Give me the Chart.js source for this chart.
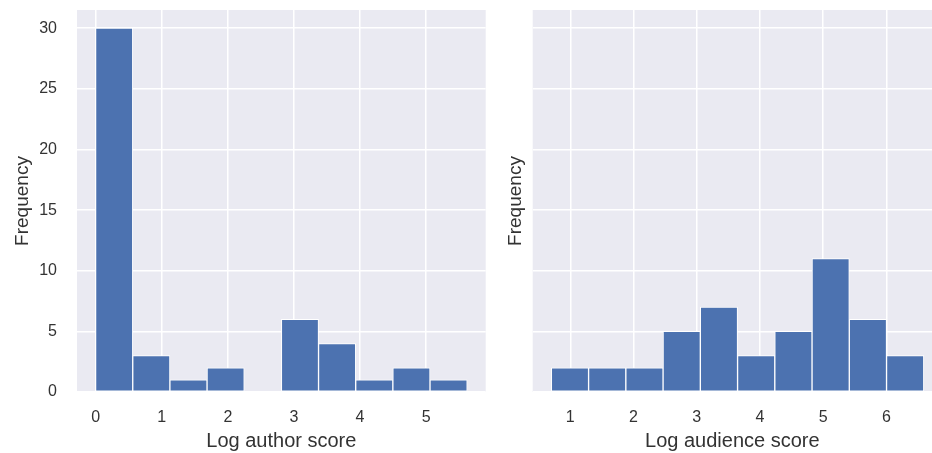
<!DOCTYPE html>
<html><head><meta charset="utf-8">
<script src="https://cdn.jsdelivr.net/npm/chart.js@4.4.0/dist/chart.umd.min.js"></script>
<style>
html,body{margin:0;padding:0;background:#fff;}
#wrap{position:relative;width:932px;height:453px;overflow:hidden;background:#fff;}
.box{position:absolute;top:0;}
</style></head><body>
<div id="wrap">
  <div class="box" style="left:0;width:490px;height:453px"><canvas id="c1" width="490" height="453"></canvas></div>
  <div class="box" style="left:490px;width:442px;height:453px"><canvas id="c2" width="442" height="453"></canvas></div>
</div>
<script>
// ---- data ----
const authorBinEdges   = [0, 0.562, 1.124, 1.686, 2.248, 2.81, 3.372, 3.934, 4.496, 5.058, 5.62];
const authorCounts     = [30, 3, 1, 2, 0, 6, 4, 1, 2, 1];
const audienceBinEdges = [0.70, 1.289, 1.878, 2.467, 3.056, 3.645, 4.234, 4.823, 5.412, 6.001, 6.59];
const audienceCounts   = [2, 2, 2, 5, 7, 3, 5, 11, 6, 3];
const authorTicks   = [0, 1, 2, 3, 4, 5];
const audienceTicks = [1, 2, 3, 4, 5, 6];
const yTicks        = [0, 5, 10, 15, 20, 25, 30];
const authorLabel   = 'Log author score';
const audienceLabel = 'Log audience score';
const yLabel        = 'Frequency';

const FONT = "'Liberation Sans', Arial, Helvetica, sans-serif";
const TEXT = '#333333';
const BG = '#EAEAF2';
const BAR = '#4C72B0';

const bgPlugin = {
  id: 'plotbg',
  beforeDraw(chart) {
    const {ctx, chartArea: a} = chart;
    ctx.save();
    ctx.fillStyle = BG;
    ctx.fillRect(a.left, a.top, a.right - a.left, a.bottom - a.top);
    ctx.restore();
  }
};

function makeChart(id, edges, counts, xTicks, xMin, xMax, xTitle, showY, yWidth, yTitlePad, padRight) {
  const data = counts.map((c, i) => ({x: (edges[i] + edges[i + 1]) / 2, y: c}));
  return new Chart(document.getElementById(id), {
    type: 'bar',
    data: {datasets: [{
      data,
      backgroundColor: BAR,
      borderColor: '#ffffff',
      borderWidth: 1,
      borderSkipped: false,
      barPercentage: 1.0,
      categoryPercentage: 1.0
    }]},
    plugins: [bgPlugin],
    options: {
      responsive: false,
      animation: false,
      devicePixelRatio: 1,
      layout: {padding: {top: 10, left: 0, right: padRight, bottom: 0}},
      plugins: {legend: {display: false}, tooltip: {enabled: false}},
      scales: {
        x: {
          type: 'linear',
          offset: false,
          min: xMin, max: xMax,
          afterBuildTicks: s => { s.ticks = xTicks.map(v => ({value: v})); },
          afterFit: s => { s.height = 61; s.paddingLeft = 0; s.paddingRight = 0; },
          grid: {color: '#ffffff', lineWidth: 1.5, drawTicks: false, offset: false},
          border: {display: false},
          ticks: {font: {family: FONT, size: 16}, color: TEXT, padding: 16, maxRotation: 0,
                  callback: v => String(v)},
          title: {display: true, text: xTitle, font: {family: FONT, size: 20}, color: TEXT,
                  padding: {top: 0, bottom: 0}}
        },
        y: {
          type: 'linear',
          min: 0, max: 31.5,
          afterBuildTicks: s => { s.ticks = yTicks.map(v => ({value: v})); },
          afterFit: s => { s.width = yWidth; s.paddingTop = 0; s.paddingBottom = 0; },
          grid: {color: '#ffffff', lineWidth: 1.5, drawTicks: false},
          border: {display: false},
          ticks: {display: showY, font: {family: FONT, size: 16}, color: TEXT, padding: 20,
                  callback: v => String(v)},
          title: {display: true, text: yLabel, font: {family: FONT, size: 19}, color: TEXT,
                  padding: {top: yTitlePad, bottom: 0}}
        }
      }
    }
  });
}

makeChart('c1', authorBinEdges, authorCounts, authorTicks, -0.281, 5.90, authorLabel, true, 77, 11.6, 4.3);
makeChart('c2', audienceBinEdges, audienceCounts, audienceTicks, 0.405, 6.72, audienceLabel, false, 42.7, 14.2, 0);
</script>
</body></html>
